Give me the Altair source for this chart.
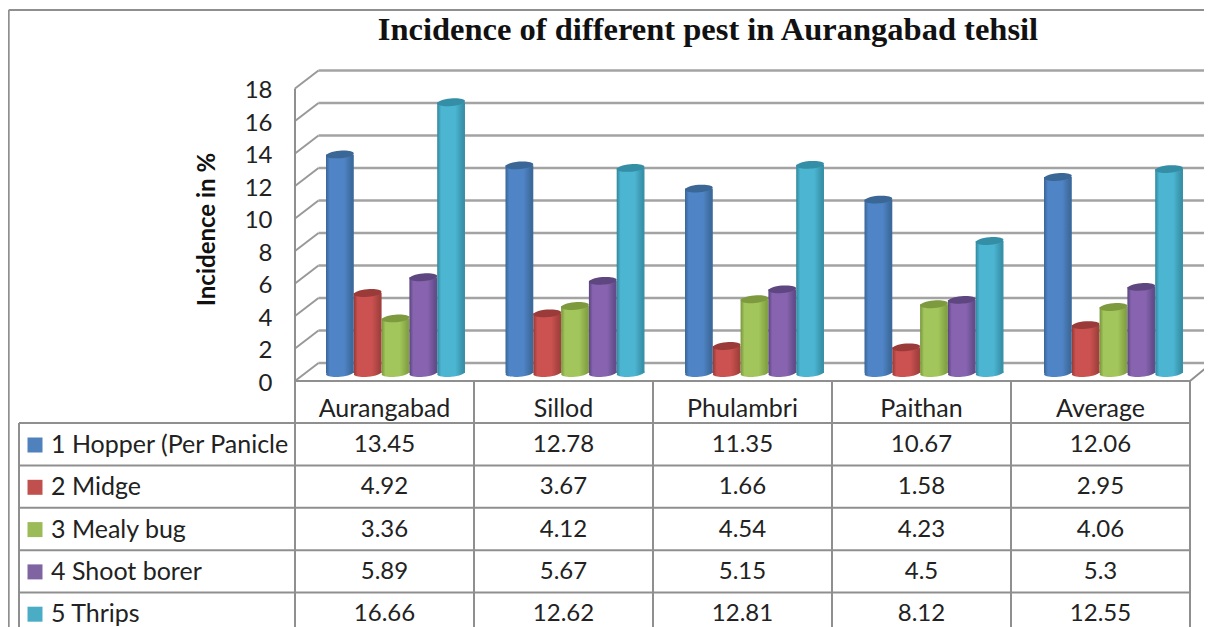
import altair as alt
import pandas as pd

# ---------- values ----------
categories = ["Aurangabad", "Sillod", "Phulambri", "Paithan", "Average"]
series_names = ["1 Hopper (Per Panicle", "2 Midge", "3 Mealy bug", "4 Shoot borer", "5 Thrips"]
hopper = [13.45, 12.78, 11.35, 10.67, 12.06]
midge = [4.92, 3.67, 1.66, 1.58, 2.95]
mealy = [3.36, 4.12, 4.54, 4.23, 4.06]
borer = [5.89, 5.67, 5.15, 4.5, 5.3]
thrips = [16.66, 12.62, 12.81, 8.12, 12.55]
value_labels = [
    ["13.45", "12.78", "11.35", "10.67", "12.06"],
    ["4.92", "3.67", "1.66", "1.58", "2.95"],
    ["3.36", "4.12", "4.54", "4.23", "4.06"],
    ["5.89", "5.67", "5.15", "4.5", "5.3"],
    ["16.66", "12.62", "12.81", "8.12", "12.55"],
]
series_values = [hopper, midge, mealy, borer, thrips]
ticks = list(range(0, 19, 2))

# colours: edge-left, middle, edge-right, cap, swatch
palette = [
    ("#3a6596", "#4f84c6", "#3d6a9c", "#3b6796", "#4f81bd"),
    ("#943835", "#cb5250", "#a2403d", "#9a3b39", "#c0504d"),
    ("#78953c", "#a2c65b", "#83a243", "#7d9a3e", "#9bbb59"),
    ("#58447e", "#8864b0", "#634c8a", "#5e4680", "#8064a2"),
    ("#318699", "#4bb5d2", "#3891a8", "#338ea6", "#4bacc6"),
]

FONT = "Lato"
LINE = "#8f8f8f"

# ---------- layout constants: category unit and value unit in the picture ----------
W, H = 1196, 619
CAT = 179.0      # one category step
VAL = 16.25      # one value unit
X0, Y0 = 287.0, 373.0  # zero of the scales from the chart's top-left corner
ux = lambda d: d / CAT
uy = lambda d: d / VAL

xscale = alt.Scale(domain=[-X0 / CAT, (W - X0) / CAT], range=[0, W], nice=False, zero=False)
yscale = alt.Scale(domain=[-(H - Y0) / VAL, Y0 / VAL], range=[H, 0], nice=False, zero=False)

yaxis = alt.Axis(
    values=ticks, offset=-264, domain=False, ticks=False, grid=False,
    labelFont=FONT, labelFontSize=24, labelColor="#222222", labelPadding=0, labelOffset=2,
    labelOverlap=False, title="Incidence in %", titleFont=FONT, titleFontSize=24,
    titleFontWeight="bold", titleColor="#111111", titleX=-65, titleY=221,
    titleAngle=270, titleAlign="center", titleBaseline="middle")

X = alt.X("x:Q", scale=xscale, axis=None)
Y = alt.Y("y:Q", scale=yscale, axis=yaxis)
X2, Y2 = alt.X2("x2"), alt.Y2("y2")


def rules(rows, color=LINE, width=2.0):
    df = pd.DataFrame(rows, columns=["x", "y", "x2", "y2"])
    return alt.Chart(df).mark_rule(color=color, strokeWidth=width).encode(x=X, y=Y, x2=X2, y2=Y2)


depth_x, depth_y = ux(23.5), uy(18)
xmax = (W - X0) / CAT
xmin = -X0 / CAT

# back wall grid and side-wall slants
grid = [(depth_x, t + depth_y, xmax, t + depth_y) for t in ticks]
slant = [(0, t, depth_x, t + depth_y) for t in ticks]
wall = [(0, 0, 0, 18), (0, 0, 5, 0), (5, 0, 5 + ux(22), depth_y)]

# table
row_top = [-uy(42 + 42.4 * k) for k in range(5)]
row_mid = [-uy(64 + 42.3 * k) for k in range(5)]
table_left = ux(19 - 295)
table_bottom = -(H - Y0) / VAL
tbl = [(table_left, r, 5, r) for r in row_top]
tbl += [(table_left, row_top[0], table_left, table_bottom)]
tbl += [(i, 0, i, table_bottom) for i in range(6)]

# outer frame
ytop = uy(Y0 - 2)
frame = [(xmin + ux(0.7), ytop, xmax, ytop), (xmin + ux(0.7), ytop, xmin + ux(0.7), table_bottom)]

layers = [rules(frame), rules(grid, "#a3a3a3", 2.4), rules(slant, "#999999", 2.0), rules(wall), rules(tbl)]

# cylinders
BAR = 27.8
ELL = "M-1,0 A1,0.27 0 1,1 1,0 A1,0.27 0 1,1 -1,0 Z"
base_lift = uy(8)
for s, (vals, cols) in enumerate(zip(series_values, palette)):
    left, mid, right, cap, _ = cols
    rows = []
    for c, v in enumerate(vals):
        x0 = ux(31 + c * 179.5 + s * BAR)
        rows.append({"x": x0, "x2": x0 + ux(BAR), "xm": x0 + ux(BAR / 2),
                     "y": v + base_lift, "y2": base_lift, "series": series_names[s],
                     "category": categories[c]})
    df = pd.DataFrame(rows)
    grad = {
        "gradient": "linear", "x1": 0, "x2": 1, "y1": 0, "y2": 0,
        "stops": [
            {"offset": 0, "color": left}, {"offset": 0.14, "color": mid},
            {"offset": 0.65, "color": mid}, {"offset": 0.93, "color": right},
            {"offset": 1, "color": right},
        ],
    }
    XM = alt.X("xm:Q", scale=xscale, axis=None)
    layers.append(alt.Chart(df).mark_point(shape=ELL, size=BAR * BAR, filled=True, fill=grad, opacity=1,
                                           strokeWidth=0, angle=355)
                  .encode(x=XM, y=alt.Y("y2:Q", scale=yscale, axis=yaxis)))
    layers.append(alt.Chart(df).mark_rect(fill=grad).encode(x=X, x2=X2, y=Y, y2=Y2))
    layers.append(alt.Chart(df).mark_point(shape=ELL, size=BAR * BAR, filled=True, fill=cap, opacity=1,
                                           strokeWidth=0, angle=355)
                  .encode(x=XM, y=Y))

# table text
text_kw = dict(font=FONT, color="#222222", baseline="middle")
cat_df = pd.DataFrame({"x": [i + 0.5 for i in range(5)], "y": [-uy(28)] * 5, "t": categories})
layers.append(alt.Chart(cat_df).mark_text(align="center", fontSize=25, **text_kw).encode(x=X, y=Y, text="t:N"))

cell_rows = []
for r, labels in enumerate(value_labels):
    for c, lab in enumerate(labels):
        cell_rows.append({"x": c + 0.5, "y": row_mid[r], "t": lab})
layers.append(alt.Chart(pd.DataFrame(cell_rows)).mark_text(align="center", fontSize=24, **text_kw)
              .encode(x=X, y=Y, text="t:N"))

leg_df = pd.DataFrame({"x": [ux(51 - 295)] * 5, "y": row_mid, "t": series_names})
layers.append(alt.Chart(leg_df).mark_text(align="left", fontSize=25, **text_kw).encode(x=X, y=Y, text="t:N"))

sw_df = pd.DataFrame({"x": [ux(35 - 295)] * 5, "y": row_mid, "series": series_names,
                      "c": [p[4] for p in palette]})
layers.append(alt.Chart(sw_df).mark_point(shape="square", size=225, filled=True, opacity=1, strokeWidth=0)
              .encode(x=X, y=Y, fill=alt.Fill("c:N", scale=None)))

chart = alt.layer(*layers).properties(
    width=W, height=H, padding=0,
    autosize=alt.AutoSizeParams(type="none"),
    title=alt.TitleParams("Incidence of different pest in Aurangabad tehsil", font="Liberation Serif",
                          fontSize=32.5, fontWeight="bold", color="#111111", anchor="middle",
                          dx=102, dy=38, offset=0),
).configure_view(stroke=None)

chart.save("out.html", embed_options={"renderer": "svg", "actions": False})
